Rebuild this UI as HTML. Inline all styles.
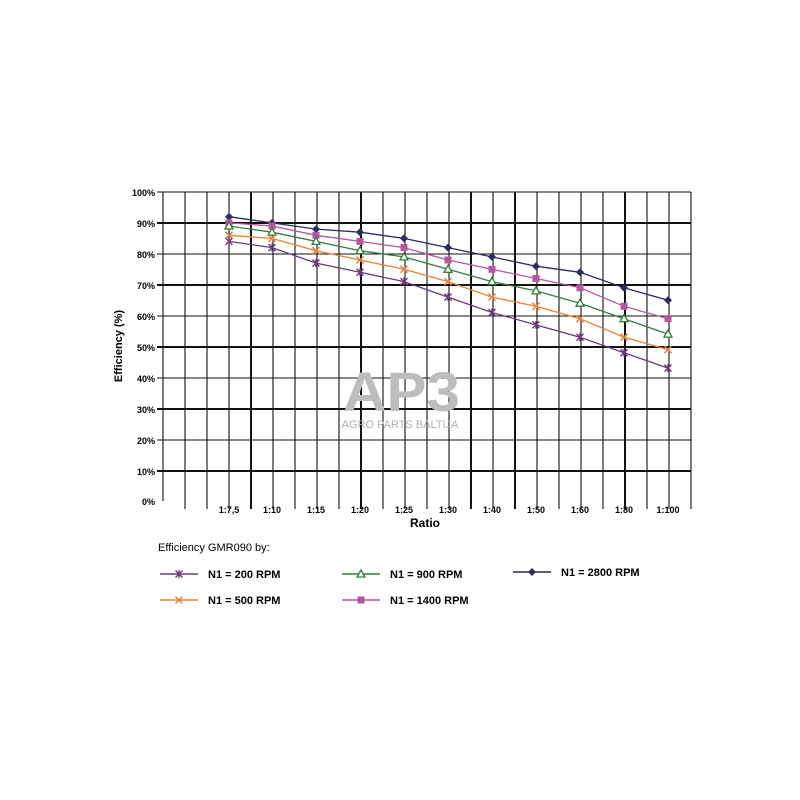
<!DOCTYPE html><html><head><style>body{margin:0;background:#fff}svg{display:block}text{font-family:"Liberation Sans",sans-serif}</style></head><body>
<svg width="800" height="800" viewBox="0 0 800 800" xmlns="http://www.w3.org/2000/svg">
<defs>
<marker id="md" viewBox="-5 -5 10 10" refX="0" refY="0" markerWidth="10" markerHeight="10" markerUnits="userSpaceOnUse"><path d="M0 -4L4 0L0 4L-4 0Z" fill="#2a2d5e"/></marker>
<marker id="ms" viewBox="-5 -5 10 10" refX="0" refY="0" markerWidth="10" markerHeight="10" markerUnits="userSpaceOnUse"><rect x="-3.5" y="-3.5" width="7" height="7" fill="#b5579f"/></marker>
<marker id="mt" viewBox="-5 -5 10 10" refX="0" refY="0" markerWidth="10" markerHeight="10" markerUnits="userSpaceOnUse"><path d="M0 -4L4 3L-4 3Z" fill="#fff" stroke="#2e7d3a" stroke-width="1.3"/></marker>
<marker id="mx" viewBox="-5 -5 10 10" refX="0" refY="0" markerWidth="10" markerHeight="10" markerUnits="userSpaceOnUse"><path d="M-3.5 -3.5L3.5 3.5M3.5 -3.5L-3.5 3.5" stroke="#e8813a" stroke-width="1.5"/></marker>
<marker id="ma" viewBox="-5 -5 10 10" refX="0" refY="0" markerWidth="10" markerHeight="10" markerUnits="userSpaceOnUse"><path d="M-3.5 -3.5L3.5 3.5M3.5 -3.5L-3.5 3.5M0 -4V4" stroke="#6b3a7a" stroke-width="1.4"/></marker>
</defs>
<g stroke="#111" stroke-width="1.1">
<line x1="163" y1="192" x2="163" y2="501"/><line x1="185" y1="192" x2="185" y2="509"/><line x1="207" y1="192" x2="207" y2="509"/><line x1="229" y1="192" x2="229" y2="509"/><line x1="251" y1="192" x2="251" y2="509" stroke-width="2"/><line x1="273" y1="192" x2="273" y2="509"/><line x1="295" y1="192" x2="295" y2="509"/><line x1="317" y1="192" x2="317" y2="509"/><line x1="339" y1="192" x2="339" y2="509"/><line x1="361" y1="192" x2="361" y2="509" stroke-width="2"/><line x1="383" y1="192" x2="383" y2="509"/><line x1="405" y1="192" x2="405" y2="509"/><line x1="427" y1="192" x2="427" y2="509"/><line x1="449" y1="192" x2="449" y2="509"/><line x1="471" y1="192" x2="471" y2="509" stroke-width="2"/><line x1="493" y1="192" x2="493" y2="509"/><line x1="515" y1="192" x2="515" y2="509" stroke-width="2"/><line x1="537" y1="192" x2="537" y2="509"/><line x1="559" y1="192" x2="559" y2="509"/><line x1="581" y1="192" x2="581" y2="509"/><line x1="603" y1="192" x2="603" y2="509"/><line x1="625" y1="192" x2="625" y2="509" stroke-width="2"/><line x1="647" y1="192" x2="647" y2="509"/><line x1="669" y1="192" x2="669" y2="509"/><line x1="691" y1="192" x2="691" y2="509"/>
<line x1="157" y1="192" x2="691" y2="192"/><line x1="157" y1="223" x2="691" y2="223" stroke-width="2"/><line x1="157" y1="254" x2="691" y2="254"/><line x1="157" y1="285" x2="691" y2="285" stroke-width="2"/><line x1="157" y1="316" x2="691" y2="316"/><line x1="157" y1="347" x2="691" y2="347" stroke-width="2"/><line x1="157" y1="378" x2="691" y2="378"/><line x1="157" y1="409" x2="691" y2="409" stroke-width="2"/><line x1="157" y1="440" x2="691" y2="440"/><line x1="157" y1="471" x2="691" y2="471" stroke-width="2"/>
</g>
<g font-size="9" font-weight="bold" text-anchor="end">
<text x="155" y="196">100%</text><text x="155" y="227">90%</text><text x="155" y="258">80%</text><text x="155" y="289">70%</text><text x="155" y="320">60%</text><text x="155" y="351">50%</text><text x="155" y="382">40%</text><text x="155" y="413">30%</text><text x="155" y="444">20%</text><text x="155" y="475">10%</text><text x="155" y="505">0%</text>
</g>
<g font-size="9" font-weight="bold" text-anchor="middle">
<text x="229" y="513">1:7,5</text><text x="272" y="513">1:10</text><text x="316" y="513">1:15</text><text x="360" y="513">1:20</text><text x="404" y="513">1:25</text><text x="448" y="513">1:30</text><text x="492" y="513">1:40</text><text x="536" y="513">1:50</text><text x="580" y="513">1:60</text><text x="624" y="513">1:80</text><text x="668" y="513">1:100</text>
</g>
<text x="343" y="411" font-size="56" font-weight="bold" fill="#bdbdbd" textLength="117" lengthAdjust="spacingAndGlyphs">AP3</text>
<text x="400" y="428" font-size="11" fill="#b0b0b0" text-anchor="middle">AGRO PARTS BALTIJA</text>
<g fill="none" stroke-width="1.3">
<polyline stroke="#2a2d5e" marker-start="url(#md)" marker-mid="url(#md)" marker-end="url(#md)" points="229,216.7 272,222.9 316,229.1 360,232.2 404,238.4 448,247.6 492,256.9 536,266.2 580,272.3 624,287.8 668,300.2"/>
<polyline stroke="#b5579f" marker-start="url(#ms)" marker-mid="url(#ms)" marker-end="url(#ms)" points="229,222.9 272,226 316,235.3 360,241.4 404,247.6 448,260 492,269.3 536,278.5 580,287.8 624,306.3 668,318.7"/>
<polyline stroke="#2e7d3a" marker-start="url(#mt)" marker-mid="url(#mt)" marker-end="url(#mt)" points="229,226 272,232.2 316,241.4 360,250.7 404,256.9 448,269.3 492,281.6 536,290.9 580,303.2 624,318.7 668,334.1"/>
<polyline stroke="#e8813a" marker-start="url(#mx)" marker-mid="url(#mx)" marker-end="url(#mx)" points="229,235.3 272,238.4 316,250.7 360,260 404,269.3 448,281.6 492,297.1 536,306.3 580,318.7 624,337.2 668,349.6"/>
<polyline stroke="#6b3a7a" marker-start="url(#ma)" marker-mid="url(#ma)" marker-end="url(#ma)" points="229,241.4 272,247.6 316,263.1 360,272.3 404,281.6 448,297.1 492,312.5 536,324.9 580,337.2 624,352.7 668,368.1"/>
</g>
<text x="425" y="527" font-size="12" font-weight="bold" text-anchor="middle">Ratio</text>
<text transform="translate(122,346) rotate(-90)" font-size="11" font-weight="bold" text-anchor="middle">Efficiency (%)</text>
<text x="158" y="551" font-size="11">Efficiency GMR090 by:</text>
<g fill="none" stroke-width="1.5">
<polyline stroke="#6b3a7a" marker-mid="url(#ma)" points="160,574 179,574 198,574"/>
<polyline stroke="#e8813a" marker-mid="url(#mx)" points="160,600 179,600 198,600"/>
<polyline stroke="#2e7d3a" marker-mid="url(#mt)" points="342,574 361,574 380,574"/>
<polyline stroke="#b5579f" marker-mid="url(#ms)" points="342,600 361,600 380,600"/>
<polyline stroke="#2a2d5e" marker-mid="url(#md)" points="513,572 532,572 551,572"/>
</g>
<g font-size="11" font-weight="bold">
<text x="208" y="578">N1 = 200 RPM</text><text x="208" y="604">N1 = 500 RPM</text><text x="390" y="578">N1 = 900 RPM</text><text x="390" y="604">N1 = 1400 RPM</text><text x="561" y="576">N1 = 2800 RPM</text>
</g>
</svg></body></html>
